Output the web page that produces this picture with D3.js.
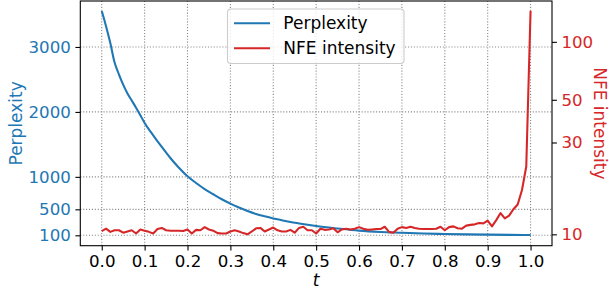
<!DOCTYPE html>
<html>
<head>
<meta charset="utf-8">
<script src="https://cdn.jsdelivr.net/npm/d3@7"></script>
<style>
  html, body { margin: 0; padding: 0; background: #fff; }
  svg { display: block; font-family: "DejaVu Sans", sans-serif; }
</style>
</head>
<body>
<div id="chart"></div>
<script>
// dados
const perplexityT = [0, 0.01, 0.02, 0.03, 0.04, 0.05, 0.06, 0.07, 0.08, 0.09, 0.10,
  0.12, 0.14, 0.16, 0.18, 0.20, 0.22, 0.24, 0.26, 0.28, 0.30, 0.32, 0.34, 0.36, 0.38, 0.40,
  0.42, 0.44, 0.46, 0.48, 0.50, 0.55, 0.60, 0.65, 0.70, 0.75, 0.80, 0.85, 0.90, 0.95, 1.00];
const perplexity = [3555, 3320, 3060, 2760, 2580, 2420, 2285, 2175, 2065, 1950, 1830,
  1640, 1460, 1290, 1140, 1008, 905, 812, 732, 655, 587, 527, 474, 428, 392, 360,
  332, 305, 283, 262, 243, 205, 172, 152, 140, 128, 120, 114, 110, 107, 105];

// NFE intensity, um ponto a cada 0.01 de t
const nfe = [
  10.4, 10.7, 10.3, 10.5, 10.5, 10.2, 10.35, 10.5, 10.1, 10.6,
  10.45, 10.3, 10.1, 10.65, 10.8, 10.5, 10.45, 10.45, 10.45, 10.4,
  10.6, 10.1, 10.55, 10.5, 10.9, 10.6, 10.45, 10.15, 10.1, 10.1,
  10.35, 10.5, 10.35, 10.15, 10.0, 10.35, 10.75, 10.8, 10.35, 10.6,
  10.85, 10.5, 10.35, 10.35, 10.55, 10.2, 10.8, 10.95, 10.5, 10.5,
  10.1, 10.7, 10.55, 10.6, 10.75, 10.25, 10.6, 10.7, 10.6, 10.7,
  10.9, 10.7, 10.55, 10.6, 10.65, 10.65, 10.95, 10.3, 10.2, 10.7,
  10.9, 10.8, 10.95, 10.8, 10.7, 10.65, 10.65, 10.65, 10.7, 10.95,
  10.5, 10.9, 11.0, 10.75, 10.7, 11.1, 11.2, 11.27, 11.45, 11.4,
  11.77, 11.0, 11.86, 12.9, 12.1, 12.5, 13.5, 14.3, 17.0, 22.5,
  145];

const xTicks = [0, 0.1, 0.2, 0.3, 0.4, 0.5, 0.6, 0.7, 0.8, 0.9, 1.0];
const leftTicks = [100, 500, 1000, 2000, 3000];
const rightTicks = [10, 30, 50, 100];

const blue = "#1f77b4", red = "#d62728";
const W = 609, H = 291;
const m = { left: 80.3, right: 552, top: 1, bottom: 245.7 };
const fs = 16.67, fsLabel = 17;

const svg = d3.select("#chart").append("svg").attr("width", W).attr("height", H);

const x = d3.scaleLinear().domain([-0.05, 1.05]).range([m.left, m.right]);
const yL = d3.scaleLinear().domain([-60, 3708]).range([m.bottom, m.top]);
const yR = d3.scaleLog().domain([8.73, 163]).range([m.bottom, m.top]);

// grade pontilhada
const grid = svg.append("g").attr("stroke", "#8a8a8a").attr("stroke-width", 1.1)
  .attr("stroke-dasharray", "1.1,1.8");
xTicks.forEach(t => {
  grid.append("line").attr("x1", x(t)).attr("x2", x(t)).attr("y1", m.top).attr("y2", m.bottom);
});
leftTicks.forEach(v => {
  grid.append("line").attr("x1", m.left).attr("x2", m.right).attr("y1", yL(v)).attr("y2", yL(v));
});

// linhas
const lineP = d3.line().x((d, i) => x(perplexityT[i])).y(d => yL(d)).curve(d3.curveMonotoneX);
svg.append("path").datum(perplexity).attr("d", lineP)
  .attr("fill", "none").attr("stroke", blue).attr("stroke-width", 2.08);

const lineN = d3.line().x((d, i) => x(i / 100)).y(d => yR(d));
svg.append("path").datum(nfe).attr("d", lineN)
  .attr("fill", "none").attr("stroke", red).attr("stroke-width", 2.08)
  .attr("stroke-linejoin", "round");

// eixos
const xAxis = svg.append("g").attr("transform", `translate(0,${m.bottom})`)
  .call(d3.axisBottom(x).tickValues(xTicks).tickFormat(d3.format(".1f"))
    .tickSizeInner(4.9).tickSizeOuter(0).tickPadding(4.5));
const leftAxis = svg.append("g").attr("transform", `translate(${m.left},0)`)
  .call(d3.axisLeft(yL).tickValues(leftTicks).tickFormat(d3.format("d"))
    .tickSizeInner(4.9).tickSizeOuter(0).tickPadding(4.5));
const rightAxis = svg.append("g").attr("transform", `translate(${m.right},0)`)
  .call(d3.axisRight(yR).tickValues(rightTicks).tickFormat(d3.format("d"))
    .tickSizeInner(4.9).tickSizeOuter(0).tickPadding(4.5));

[xAxis, leftAxis, rightAxis].forEach(a => {
  a.select(".domain").remove();
  a.selectAll("line").attr("stroke", "#000").attr("stroke-width", 1.1);
  a.selectAll("text").attr("font-size", fs).attr("font-family", "DejaVu Sans");
});
xAxis.selectAll("text").attr("fill", "#000");
leftAxis.selectAll("text").attr("fill", blue);
rightAxis.selectAll("text").attr("fill", red);

// moldura
svg.append("rect").attr("x", m.left).attr("y", m.top)
  .attr("width", m.right - m.left).attr("height", m.bottom - m.top)
  .attr("fill", "none").attr("stroke", "#000").attr("stroke-width", 1.1);

// rótulos
svg.append("text").attr("x", (x(0) + x(1)) / 2).attr("y", 286)
  .attr("text-anchor", "middle").attr("font-size", fsLabel).attr("font-style", "italic")
  .text("t");
svg.append("text").attr("transform", `translate(21.5,${(m.top + m.bottom) / 2}) rotate(-90)`)
  .attr("text-anchor", "middle").attr("font-size", fsLabel).attr("fill", blue)
  .text("Perplexity");
svg.append("text").attr("transform", `translate(594,${(m.top + m.bottom) / 2}) rotate(90)`)
  .attr("text-anchor", "middle").attr("font-size", fsLabel).attr("fill", red)
  .text("NFE intensity");

// legenda
const legend = svg.append("g");
legend.append("rect").attr("x", 227.5).attr("y", 9).attr("width", 176.5).attr("height", 54.5)
  .attr("rx", 3.5).attr("fill", "#fff").attr("fill-opacity", 0.8)
  .attr("stroke", "#ccc").attr("stroke-width", 1.1);
const items = [
  { label: "Perplexity", color: blue, y: 23.3 },
  { label: "NFE intensity", color: red, y: 48.3 }
];
items.forEach(it => {
  legend.append("line").attr("x1", 234).attr("x2", 270).attr("y1", it.y).attr("y2", it.y)
    .attr("stroke", it.color).attr("stroke-width", 2.08);
  legend.append("text").attr("x", 283.3).attr("y", it.y + 6)
    .attr("font-size", fsLabel).attr("fill", "#000").text(it.label);
});
</script>
</body>
</html>
